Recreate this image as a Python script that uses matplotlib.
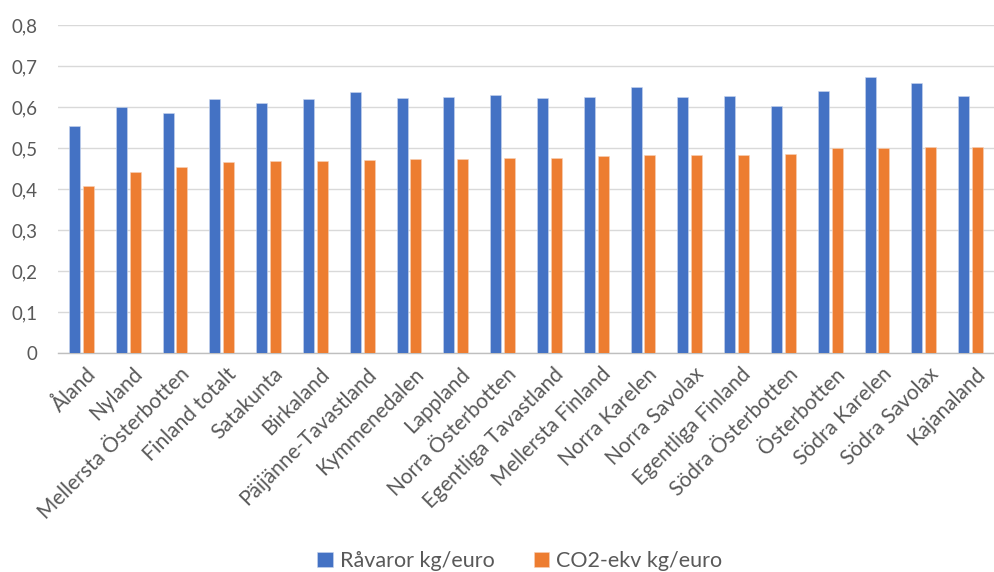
import numpy as np
import matplotlib
matplotlib.use("Agg")
import matplotlib.pyplot as plt
import matplotlib.transforms as mtransforms
from matplotlib.ticker import FuncFormatter, MultipleLocator

regions = ["Åland", "Nyland", "Mellersta Österbotten", "Finland totalt", "Satakunta",
           "Birkaland", "Päijänne-Tavastland", "Kymmenedalen", "Lappland",
           "Norra Österbotten", "Egentliga Tavastland", "Mellersta Finland",
           "Norra Karelen", "Norra Savolax", "Egentliga Finland", "Södra Österbotten",
           "Österbotten", "Södra Karelen", "Södra Savolax", "Kajanaland"]

ravaror = [0.554, 0.601, 0.586, 0.619, 0.610, 0.620, 0.637, 0.623, 0.624, 0.630,
           0.622, 0.625, 0.650, 0.625, 0.628, 0.602, 0.639, 0.672, 0.658, 0.627]

co2_ekv = [0.407, 0.442, 0.454, 0.467, 0.469, 0.469, 0.470, 0.473, 0.474, 0.475,
           0.476, 0.480, 0.483, 0.483, 0.484, 0.485, 0.500, 0.501, 0.502, 0.503]

series_names = ["Råvaror kg/euro", "CO2-ekv kg/euro"]

plt.rcParams["font.family"] = ["Lato", "DejaVu Sans"]
text_color = "#595959"

fig = plt.figure(figsize=(9.94, 5.72), dpi=100)
ax = fig.add_axes([58 / 994, 1 - 353 / 572, 936 / 994, (353 - 25) / 572])

x = np.arange(len(regions))
w = 0.235
gap = 0.03
ax.bar(x - w / 2 - gap, ravaror, width=w, color="#4472C4", edgecolor="#c9d6ee",
       linewidth=0.4, label=series_names[0], zorder=3)
ax.bar(x + w / 2 + gap, co2_ekv, width=w, color="#ED7D31", edgecolor="#f7d2b8",
       linewidth=0.4, label=series_names[1], zorder=3)

ax.set_xlim(-0.5, len(regions) - 0.5)
ax.set_ylim(0, 0.8)
ax.yaxis.set_major_locator(MultipleLocator(0.1))
ax.yaxis.set_major_formatter(FuncFormatter(lambda v, p: "0" if abs(v) < 1e-9 else f"{v:.1f}".replace(".", ",")))
ax.grid(axis="y", color="#d9d9d9", linewidth=1.0, zorder=0)
ax.set_axisbelow(True)

for s in ["top", "right", "left"]:
    ax.spines[s].set_visible(False)
ax.spines["bottom"].set_color("#bfbfbf")
ax.spines["bottom"].set_linewidth(1.0)

ax.tick_params(axis="y", length=0, labelsize=13.5, labelcolor=text_color, pad=15)
ax.tick_params(axis="x", length=0, labelsize=15, labelcolor=text_color, pad=8)
ax.set_xticks(x)
ax.set_xticklabels(regions, rotation=45, ha="right", rotation_mode="anchor")
for lbl in ax.get_xticklabels():
    lbl.set_transform(lbl.get_transform() + mtransforms.ScaledTranslation(3 / 72, 0, fig.dpi_scale_trans))

leg = fig.legend(loc="center", bbox_to_anchor=(0.523, 1 - 561 / 572), ncol=2, frameon=False,
                 fontsize=15.5, handlelength=0.7, handleheight=0.7, handletextpad=0.35,
                 columnspacing=1.8, labelcolor=text_color)

fig.savefig("out.png", dpi=100)
